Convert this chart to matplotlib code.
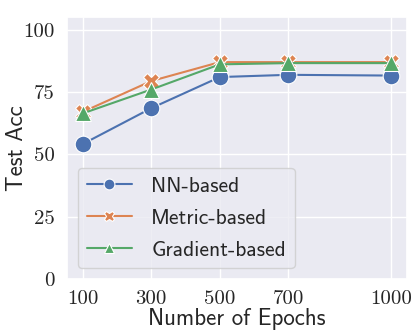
import matplotlib
matplotlib.use('Agg')
import matplotlib.pyplot as plt
import seaborn as sns

# Datos
epocas = [100, 300, 500, 700, 1000]
acc_nn = [54.1, 68.5, 81.0, 81.9, 81.6]
acc_metric = [67.0, 79.4, 87.0, 87.0, 87.0]
acc_gradient = [66.4, 76.0, 86.1, 86.6, 86.6]
nombres = ['NN-based', 'Metric-based', 'Gradient-based']
marcadores = ['o', 'X', '^']
yticks = [0, 25, 50, 75, 100]

sns.set_theme(style='darkgrid')
plt.rcParams['font.family'] = ['cmss10', 'DejaVu Sans']
plt.rcParams['axes.unicode_minus'] = False

colores = sns.color_palette('deep')
fig, ax = plt.subplots(figsize=(4.15, 3.32), dpi=100)
for serie, nombre, m, c in zip([acc_nn, acc_metric, acc_gradient], nombres, marcadores, colores):
    ax.plot(epocas, serie, marker=m, color=c, label=nombre, lw=1.5,
            markersize=12, markeredgecolor='white', markeredgewidth=0.8)

ax.set_ylim(0, 105)
ax.set_xticks(epocas)
ax.set_xticklabels([str(e) for e in epocas], fontsize=15, family='cmr10')
ax.set_yticks(yticks)
ax.set_yticklabels([str(v) for v in yticks], fontsize=15, family='cmr10')
ax.tick_params(axis='x', pad=2)
ax.tick_params(axis='y', pad=3)
ax.set_xlabel('Number of Epochs', fontsize=16.5, labelpad=0)
ax.set_ylabel('Test Acc', fontsize=16.5)
ax.yaxis.set_label_coords(-0.115, 0.5)
ax.legend(loc='lower left', fontsize=15.5, handlelength=2.1, handletextpad=0.9,
          markerscale=0.65, borderaxespad=0.5, labelspacing=0.6)

fig.subplots_adjust(left=0.162, right=0.98, top=0.948, bottom=0.16)
plt.savefig('out.png')
